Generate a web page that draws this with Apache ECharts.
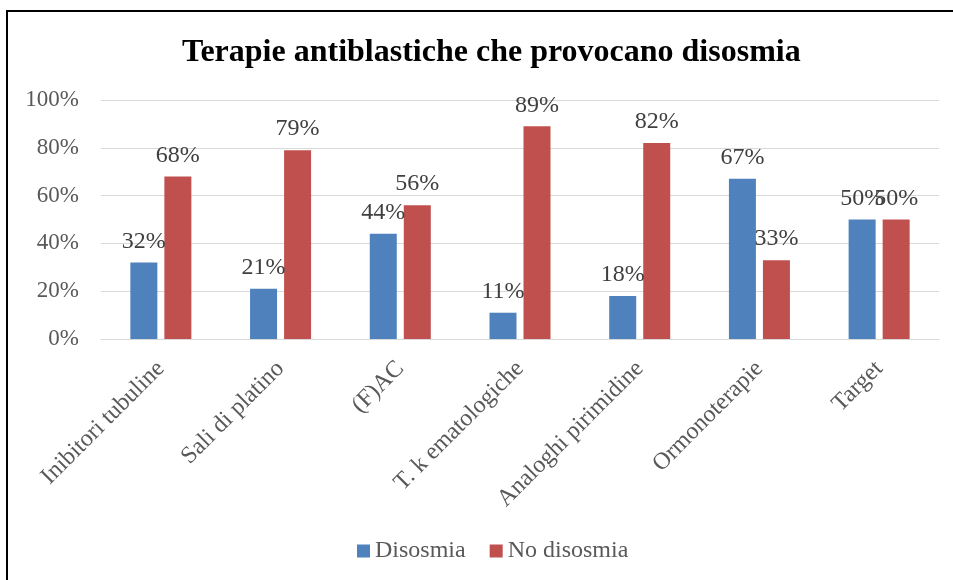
<!DOCTYPE html>
<html>
<head>
<meta charset="utf-8">
<script src="https://cdn.jsdelivr.net/npm/echarts@6/dist/echarts.min.js"></script>
<style>
html,body{margin:0;padding:0;background:#fff;}
#c{width:953px;height:580px;}
</style>
</head>
<body>
<div id="c"></div>
<script>
var categories = ['Inibitori tubuline','Sali di platino','(F)AC','T. k ematologiche','Analoghi pirimidine','Ormonoterapie','Target'];
var disosmia = [32,21,44,11,18,67,50];
var noDisosmia = [68,79,56,89,82,33,50];
var yTicks = [0,20,40,60,80,100];

var FONT = '"Liberation Serif","Times New Roman",serif';
var chart = echarts.init(document.getElementById('c'));
var labelStyle = {show:true,position:'top',distance:9,formatter:'{c}%',fontFamily:FONT,fontSize:24,color:'#404040'};
chart.setOption({
  animation:false,
  graphic:[{type:'rect',shape:{x:7,y:11,width:1000,height:1000},style:{fill:'none',stroke:'#000',lineWidth:2},silent:true}],
  title:{text:'Terapie antiblastiche che provocano disosmia',left:177,top:32,
    textStyle:{fontFamily:FONT,fontSize:32,fontWeight:'bold',color:'#000'}},
  legend:{bottom:12,left:352,itemWidth:13,itemHeight:13,itemGap:24,icon:'rect',
    textStyle:{fontFamily:FONT,fontSize:24,color:'#595959'},data:['Disosmia','No disosmia']},
  grid:{left:101,right:14,top:100,bottom:241,containLabel:false},
  xAxis:{type:'category',data:categories,
    axisLine:{lineStyle:{color:'#D9D9D9',width:1}},axisTick:{show:false},
    axisLabel:{rotate:45,interval:0,fontFamily:FONT,fontSize:24,color:'#595959',margin:26}},
  yAxis:{type:'value',min:yTicks[0],max:yTicks[yTicks.length-1],interval:20,
    axisLine:{show:false},axisTick:{show:false},
    splitLine:{lineStyle:{color:'#D9D9D9',width:1}},
    axisLabel:{formatter:'{value}%',fontFamily:FONT,fontSize:23,color:'#595959',margin:22}},
  series:[
    {name:'Disosmia',type:'bar',data:disosmia,barWidth:27,barGap:'26%',itemStyle:{color:'#4F81BD'},label:labelStyle},
    {name:'No disosmia',type:'bar',data:noDisosmia,barWidth:27,itemStyle:{color:'#C0504D'},label:labelStyle}
  ]
});
</script>
</body>
</html>
